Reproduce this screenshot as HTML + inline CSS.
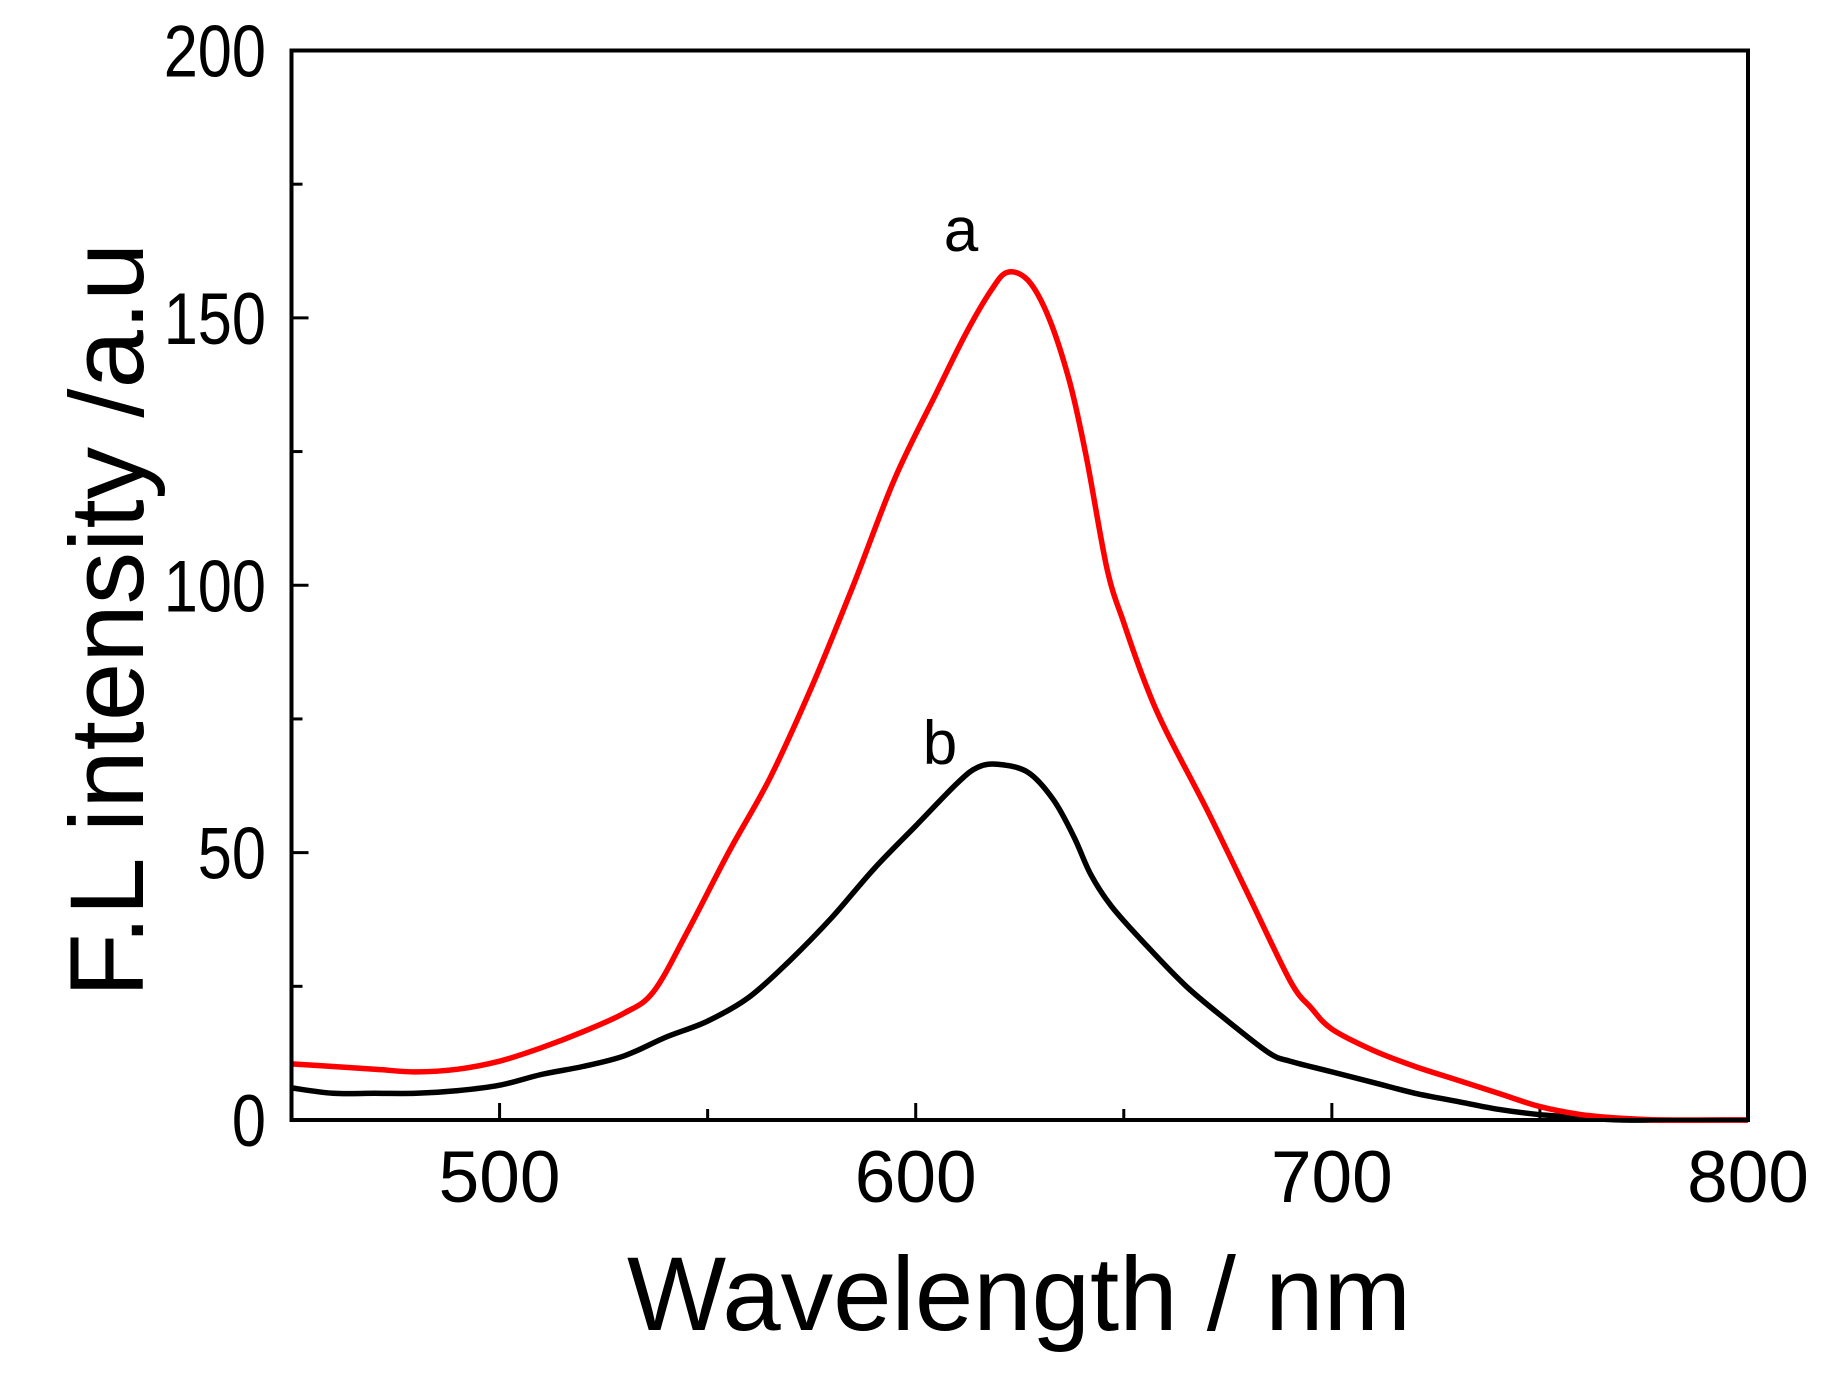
<!DOCTYPE html>
<html><head><meta charset="utf-8"><style>
html,body{margin:0;padding:0;background:#fff;}
svg{display:block;font-family:"Liberation Sans",Arial,sans-serif;}
</style></head><body>
<svg id="chart" width="1833" height="1386" viewBox="0 0 1833 1386">
<g id="ticks"></g>
<g id="series"></g>
<rect x="291.5" y="50.5" width="1456.5" height="1069.5" fill="none" stroke="#000" stroke-width="4"/>
<text x="1019" y="1330" font-size="105" text-anchor="middle">Wavelength / nm</text>
<text transform="translate(143,620) rotate(-90)" font-size="105" text-anchor="middle">F.L intensity /a.u</text>
<text x="961" y="251" font-size="62" text-anchor="middle">a</text>
<text x="940" y="764" font-size="62" text-anchor="middle">b</text>
</svg>
<script>
const xTicks=[500,600,700,800];
const yTicks=[0,50,100,150,200];
const wlA=[450,460,470,480,490,500,510,520,530,537,545,555,565,575,585,595,605,612,618,622,627,632,637,641,646,650,655,660,670,680,690,695,700,710,720,730,740,750,760,770,780,800];
const intA=[10.5,10,9.5,9,9.5,11,13.5,16.5,20,24,35,50,64,81,100,120,136,147,155,158.5,157,150,138,124,103,93,82,73,58,42,26,21,17,13,10,7.5,5,2.5,1,0.3,0,0];
const wlB=[450,460,470,480,490,500,510,520,530,540,550,560,570,580,590,600,610,615,620,627,633,638,642,647,655,665,675,685,690,700,710,720,730,740,750,760,770,800];
const intB=[6,5,5,5,5.5,6.5,8.5,10,12,15.5,18.5,23,30,38,47,55,63,66,66.5,65,60,53,46,40,33,25,18.5,12.5,11,9,7,5,3.5,2,1,0.5,0,0];
const X0=291.5,X1=1748,Y0=1120,Y1=50.5;
function sx(v){return X0+(v-450)/(800-450)*(X1-X0);}
function sy(v){return Y0-(v/200)*(Y0-Y1);}
const NS="http://www.w3.org/2000/svg";
const tg=document.getElementById('ticks');
function line(x1,y1,x2,y2,name){const l=document.createElementNS(NS,'line');
l.setAttribute('x1',x1);l.setAttribute('y1',y1);l.setAttribute('x2',x2);l.setAttribute('y2',y2);
l.setAttribute('stroke','#000');l.setAttribute('stroke-width','3');


tg.appendChild(l);}
function text(x,y,s,anchor,name,sc){const t=document.createElementNS(NS,'text');
t.setAttribute('x',0);t.setAttribute('y',0);t.setAttribute('font-size','73');t.setAttribute('text-anchor',anchor);t.textContent=s;
t.setAttribute('transform','translate('+x+','+y+') scale('+sc+',1)');


tg.appendChild(t);}
for(let v=500;v<800;v+=50){const major=v%100===0;line(sx(v),Y0,sx(v),Y0-(major?17:11),'x-tick');}
for(let v=25;v<200;v+=25){const major=v%50===0;line(X0,sy(v),X0+(major?17:11),sy(v),'y-tick');}
xTicks.forEach(v=>text(sx(v),1202,String(v),'middle','x-tick-label',1));
yTicks.forEach(v=>text(266,sy(v)+26,String(v),'end','y-tick-label',0.84));
const sg=document.getElementById('series');
function path(xs,ys,color,name){
const P=xs.map((x,i)=>[sx(x),sy(ys[i])]);
let d='M'+P[0][0].toFixed(1)+','+P[0][1].toFixed(1);
for(let i=0;i<P.length-1;i++){const p0=P[Math.max(0,i-1)],p1=P[i],p2=P[i+1],p3=P[Math.min(P.length-1,i+2)];
const c1=[p1[0]+(p2[0]-p0[0])/6,p1[1]+(p2[1]-p0[1])/6],c2=[p2[0]-(p3[0]-p1[0])/6,p2[1]-(p3[1]-p1[1])/6];
d+='C'+c1[0].toFixed(1)+','+c1[1].toFixed(1)+' '+c2[0].toFixed(1)+','+c2[1].toFixed(1)+' '+p2[0].toFixed(1)+','+p2[1].toFixed(1);}
const p=document.createElementNS(NS,'path');
p.setAttribute('d',d);
p.setAttribute('fill','none');p.setAttribute('stroke',color);p.setAttribute('stroke-width','5.5');p.setAttribute('stroke-linejoin','round');


sg.appendChild(p);}
path(wlB,intB,'#000','series-b-line');
path(wlA,intA,'#ff0000','series-a-line');
</script>
</body></html>
